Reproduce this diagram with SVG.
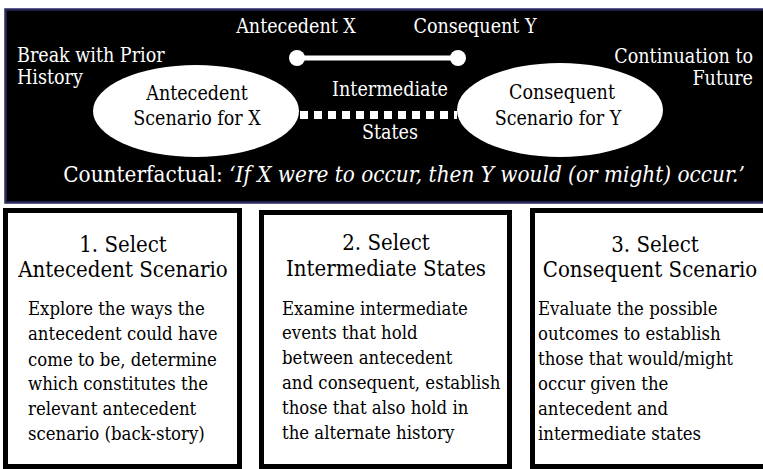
<svg xmlns="http://www.w3.org/2000/svg" width="763" height="469" viewBox="0 0 763 469">
  <style>
    text { font-family: "DejaVu Serif Condensed", "DejaVu Serif", serif; font-stretch: condensed; }
    .w { fill: #ffffff; font-size: 19.5px; }
    .b { fill: #000000; }
    .title { font-size: 22px; text-anchor: middle; }
    .body { font-size: 18.4px; }
    .box { fill: #ffffff; stroke: #000000; stroke-width: 5; }
    .ell { fill: #ffffff; }
  </style>
  <rect x="0" y="0" width="763" height="469" fill="#ffffff"/>
  <g id="panel">
    <rect x="5.5" y="9.5" width="770" height="193" fill="#000000" stroke="#28285e" stroke-width="2.5"/>
  </g>
  <g id="connectors">
    <line x1="297" y1="58" x2="458" y2="58" stroke="#ffffff" stroke-width="5"/>
    <circle cx="297" cy="58" r="8" fill="#ffffff"/>
    <circle cx="458" cy="58" r="8" fill="#ffffff"/>
    <line x1="300" y1="115" x2="457" y2="115" stroke="#ffffff" stroke-width="8" stroke-dasharray="8 6"/>
  </g>
  <g id="label-antecedent-x">
    <text class="w" x="296" y="33" text-anchor="middle">Antecedent X</text>
  </g>
  <g id="label-consequent-y">
    <text class="w" x="475" y="33" text-anchor="middle">Consequent Y</text>
  </g>
  <g id="label-break">
    <text class="w" x="17" y="62">Break with Prior</text>
    <text class="w" x="17" y="84">History</text>
  </g>
  <g id="label-continuation">
    <text class="w" x="753" y="63" text-anchor="end">Continuation to</text>
    <text class="w" x="753" y="85" text-anchor="end">Future</text>
  </g>
  <g id="label-intermediate">
    <text class="w" x="390" y="96" text-anchor="middle" font-size="19">Intermediate</text>
    <text class="w" x="390" y="139" text-anchor="middle" font-size="19">States</text>
  </g>
  <g id="antecedent-scenario">
    <ellipse class="ell" cx="196" cy="111" rx="103" ry="46"/>
    <text class="b" x="197" y="100" font-size="19.5" text-anchor="middle">Antecedent</text>
    <text class="b" x="197" y="125" font-size="19.5" text-anchor="middle">Scenario for X</text>
  </g>
  <g id="consequent-scenario">
    <ellipse class="ell" cx="560" cy="110" rx="103" ry="47"/>
    <text class="b" x="562" y="99" font-size="19.5" text-anchor="middle">Consequent</text>
    <text class="b" x="558" y="125" font-size="19.5" text-anchor="middle">Scenario for Y</text>
  </g>
  <g id="counterfactual">
    <text x="404" y="182" fill="#ffffff" font-size="22.3" text-anchor="middle">Counterfactual: <tspan font-style="italic">‘If X were to occur, then Y would (or might) occur.’</tspan></text>
  </g>
  <g id="step1">
    <rect class="box" x="5.5" y="210.5" width="234" height="256"/>
    <text class="b title" x="123" y="252">1. Select</text>
    <text class="b title" x="123" y="277">Antecedent Scenario</text>
    <text class="b body" x="28" y="315">Explore the ways the</text>
    <text class="b body" x="28" y="340">antecedent could have</text>
    <text class="b body" x="28" y="366">come to be, determine</text>
    <text class="b body" x="28" y="390">which constitutes the</text>
    <text class="b body" x="28" y="415">relevant antecedent</text>
    <text class="b body" x="28" y="440">scenario (back-story)</text>
  </g>
  <g id="step2">
    <rect class="box" x="261.5" y="212.5" width="248" height="254"/>
    <text class="b title" x="386" y="250">2. Select</text>
    <text class="b title" x="386" y="276">Intermediate States</text>
    <text class="b body" x="282" y="315">Examine intermediate</text>
    <text class="b body" x="282" y="339">events that hold</text>
    <text class="b body" x="282" y="364">between antecedent</text>
    <text class="b body" x="282" y="389">and consequent, establish</text>
    <text class="b body" x="282" y="414">those that also hold in</text>
    <text class="b body" x="282" y="439">the alternate history</text>
  </g>
  <g id="step3">
    <rect class="box" x="532.5" y="210.5" width="240" height="256"/>
    <text class="b title" x="655" y="252">3. Select</text>
    <text class="b title" x="650" y="277">Consequent Scenario</text>
    <text class="b body" x="538" y="315">Evaluate the possible</text>
    <text class="b body" x="538" y="340">outcomes to establish</text>
    <text class="b body" x="538" y="365">those that would/might</text>
    <text class="b body" x="538" y="390">occur given the</text>
    <text class="b body" x="538" y="415">antecedent and</text>
    <text class="b body" x="538" y="440">intermediate states</text>
  </g>
</svg>
